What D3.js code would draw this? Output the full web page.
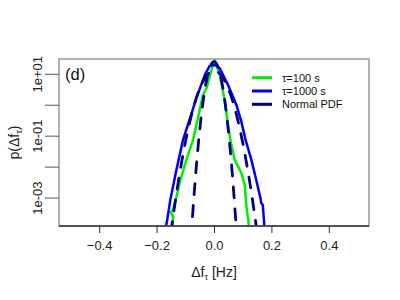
<!DOCTYPE html>
<html>
<head>
<meta charset="utf-8">
<script src="https://cdn.jsdelivr.net/npm/d3@7"></script>
<style>
  body { margin: 0; background: #fff; }
  text { font-family: "Liberation Sans", Arial, Helvetica, sans-serif; }
</style>
</head>
<body>
<svg id="chart"></svg>
<script>
// Declaring all constants

const svgWidth = 400,
    svgHeight = 300,
    box = {left: 59, right: 369, top: 59, bottom: 226};

// tau = 100 s, empirical pdf (x in Hz, density)
const green_x = [-0.145, -0.142, -0.151, -0.143, -0.133, -0.117, -0.096, -0.073, -0.055, -0.039, -0.026, -0.009, 0.002,
                 0.010, 0.020, 0.037, 0.048, 0.057, 0.072, 0.095, 0.107, 0.113, 0.122, 0.123];
const green_p = [1.1e-4, 2.5e-4, 3.4e-4, 4.2e-4, 8.9e-4, 3.9e-3, 0.0174, 0.076, 0.42, 2.1, 3.5, 13.8, 31,
                 18.0, 9.5, 1.48, 0.27, 0.076, 0.0174, 0.0066, 0.0027, 5.4e-4, 1.2e-4, 9e-5];

// tau = 1000 s, empirical pdf
const blue_x = [-0.168, -0.163, -0.152, -0.131, -0.108, -0.087, -0.061, -0.032, -0.015, 0.0, 0.008, 0.020,
                0.049, 0.078, 0.095, 0.110, 0.130, 0.147, 0.163, 0.164, 0.170, 0.176];
const blue_p = [1.1e-4, 2.0e-4, 8.9e-4, 8.1e-3, 0.076, 0.30, 1.72, 9.5, 18.6, 20, 19, 15.5,
                4.5, 1.02, 0.30, 0.076, 0.0174, 3.9e-3, 8.9e-4, 7.1e-4, 6.0e-4, 1.1e-4];

// normal pdf fitted to tau = 100 s
const norm1_x = [-0.08, -0.07, -0.06, -0.05, -0.04, -0.03, -0.02, -0.01, 0, 0.01, 0.02, 0.03, 0.04, 0.05, 0.06, 0.07, 0.08];
const norm1_p = [4.9e-5, 1.07e-3, 0.0155, 0.151, 0.955, 4.07, 11.2, 20.9, 25.7, 20.9, 11.2, 4.07, 0.955, 0.151, 0.0155, 1.07e-3, 4.9e-5];

// normal pdf fitted to tau = 1000 s
const norm2_x = [-0.16, -0.14, -0.12, -0.10, -0.08, -0.06, -0.04, -0.02, 0, 0.02, 0.04, 0.06, 0.08, 0.10, 0.12, 0.14, 0.16];
const norm2_p = [1.5e-5, 3.7e-4, 5.9e-3, 0.062, 0.43, 1.9, 5.5, 10.5, 13.0, 10.5, 5.5, 1.9, 0.43, 0.062, 5.9e-3, 3.7e-4, 1.5e-5];

const xTicks = [-0.4, -0.2, 0.0, 0.2, 0.4];
const yTicks = [10, 1, 0.1, 0.01, 0.001];
const yTickLabels = ["1e+01", "", "1e-01", "", "1e-03"];
const legendLabels = ["\u03c4=100 s", "\u03c4=1000 s", "Normal PDF"];
const legendColors = ["#00ee00", "#0000ee", "#000080"];

// scales
var xScale = d3.scaleLinear().domain([-0.54, 0.54]).range([box.left, box.right]);
var yScale = d3.scaleLog().domain([1.25e-4, 31.2]).range([box.bottom, box.top]);

var line = d3.line()
    .x(function(d){ return xScale(d[0]); })
    .y(function(d){ return yScale(d[1]); });

function zip(xs, ys){
    return xs.map(function(x, i){ return [x, ys[i]]; });
}

const chart = d3.select('#chart')
    .attr("width", svgWidth)
    .attr("height", svgHeight);

chart.append("defs").append("clipPath").attr("id", "clip")
    .append("rect")
    .attr("x", box.left).attr("y", box.top)
    .attr("width", box.right - box.left).attr("height", box.bottom - box.top);

// curves
var curves = chart.append("g").attr("clip-path", "url(#clip)");

curves.append("path").datum(zip(green_x, green_p))
    .attr("d", line).attr("fill", "none")
    .attr("stroke", legendColors[0]).attr("stroke-width", 2.5);

curves.append("path").datum(zip(blue_x, blue_p))
    .attr("d", line).attr("fill", "none")
    .attr("stroke", legendColors[1]).attr("stroke-width", 2.5);

[zip(norm1_x, norm1_p), zip(norm2_x, norm2_p)].forEach(function(d){
    curves.append("path").datum(d)
        .attr("d", d3.line().curve(d3.curveMonotoneX).x(function(e){ return xScale(e[0]); }).y(function(e){ return yScale(e[1]); }))
        .attr("fill", "none")
        .attr("stroke", legendColors[2]).attr("stroke-width", 2.8)
        .attr("stroke-dasharray", "11,11")
        .attr("stroke-linecap", "round");
});

// box
chart.append("rect")
    .attr("x", box.left).attr("y", box.top)
    .attr("width", box.right - box.left).attr("height", box.bottom - box.top)
    .attr("fill", "none").attr("stroke", "#999").attr("stroke-width", 1.5);

// x axis
var xAxis = d3.axisBottom(xScale).tickValues(xTicks).tickSize(7).tickPadding(8)
    .tickFormat(d3.format(".1f"));
var gx = chart.append("g").attr("transform", "translate(0," + box.bottom + ")").call(xAxis);
gx.select(".domain").remove();
gx.selectAll("line").attr("stroke", "#333");
gx.selectAll("text").attr("font-size", 13).attr("fill", "#222")
    .attr("font-family", "Liberation Sans, Arial, sans-serif");

chart.append("line")
    .attr("x1", box.left).attr("x2", box.right)
    .attr("y1", box.bottom).attr("y2", box.bottom)
    .attr("stroke", "#333").attr("stroke-width", 1.5);

// y axis
var gy = chart.append("g");
gy.selectAll("line").data(yTicks).enter().append("line")
    .attr("x1", 45).attr("x2", box.left)
    .attr("y1", function(d){ return yScale(d); })
    .attr("y2", function(d){ return yScale(d); })
    .attr("stroke", "#555");
gy.selectAll("text").data(yTicks).enter().append("text")
    .attr("transform", function(d){ return "translate(42," + yScale(d) + ") rotate(-90)"; })
    .attr("text-anchor", "middle")
    .attr("font-size", 13).attr("fill", "#222")
    .text(function(d, i){ return yTickLabels[i]; });

// axis titles
var xt = chart.append("text")
    .attr("x", 214).attr("y", 277)
    .attr("text-anchor", "middle").attr("font-size", 14).attr("fill", "#222");
xt.append("tspan").text("\u0394f");
xt.append("tspan").attr("font-size", 9).attr("dy", 3).text("\u03c4");
xt.append("tspan").attr("dy", -3).text(" [Hz]");

var yt = chart.append("text")
    .attr("transform", "translate(19," + ((box.top + box.bottom) / 2) + ") rotate(-90)")
    .attr("text-anchor", "middle").attr("font-size", 14).attr("fill", "#222");
yt.append("tspan").text("p(\u0394f");
yt.append("tspan").attr("font-size", 9).attr("dy", 3).text("\u03c4");
yt.append("tspan").attr("dy", -3).text(")");

// panel label
chart.append("text")
    .attr("x", 65).attr("y", 80)
    .attr("font-size", 16.5).attr("fill", "#111")
    .text("(d)");

// legend
var legend = chart.append("g");
legendLabels.forEach(function(lab, i){
    var y = 77.7 + i * 13.3;
    legend.append("line")
        .attr("x1", 252).attr("x2", 272)
        .attr("y1", y).attr("y2", y)
        .attr("stroke", legendColors[i]).attr("stroke-width", 3);
    legend.append("text")
        .attr("x", 282).attr("y", y + 4)
        .attr("font-size", 11).attr("fill", "#111")
        .text(lab);
});
</script>
</body>
</html>
